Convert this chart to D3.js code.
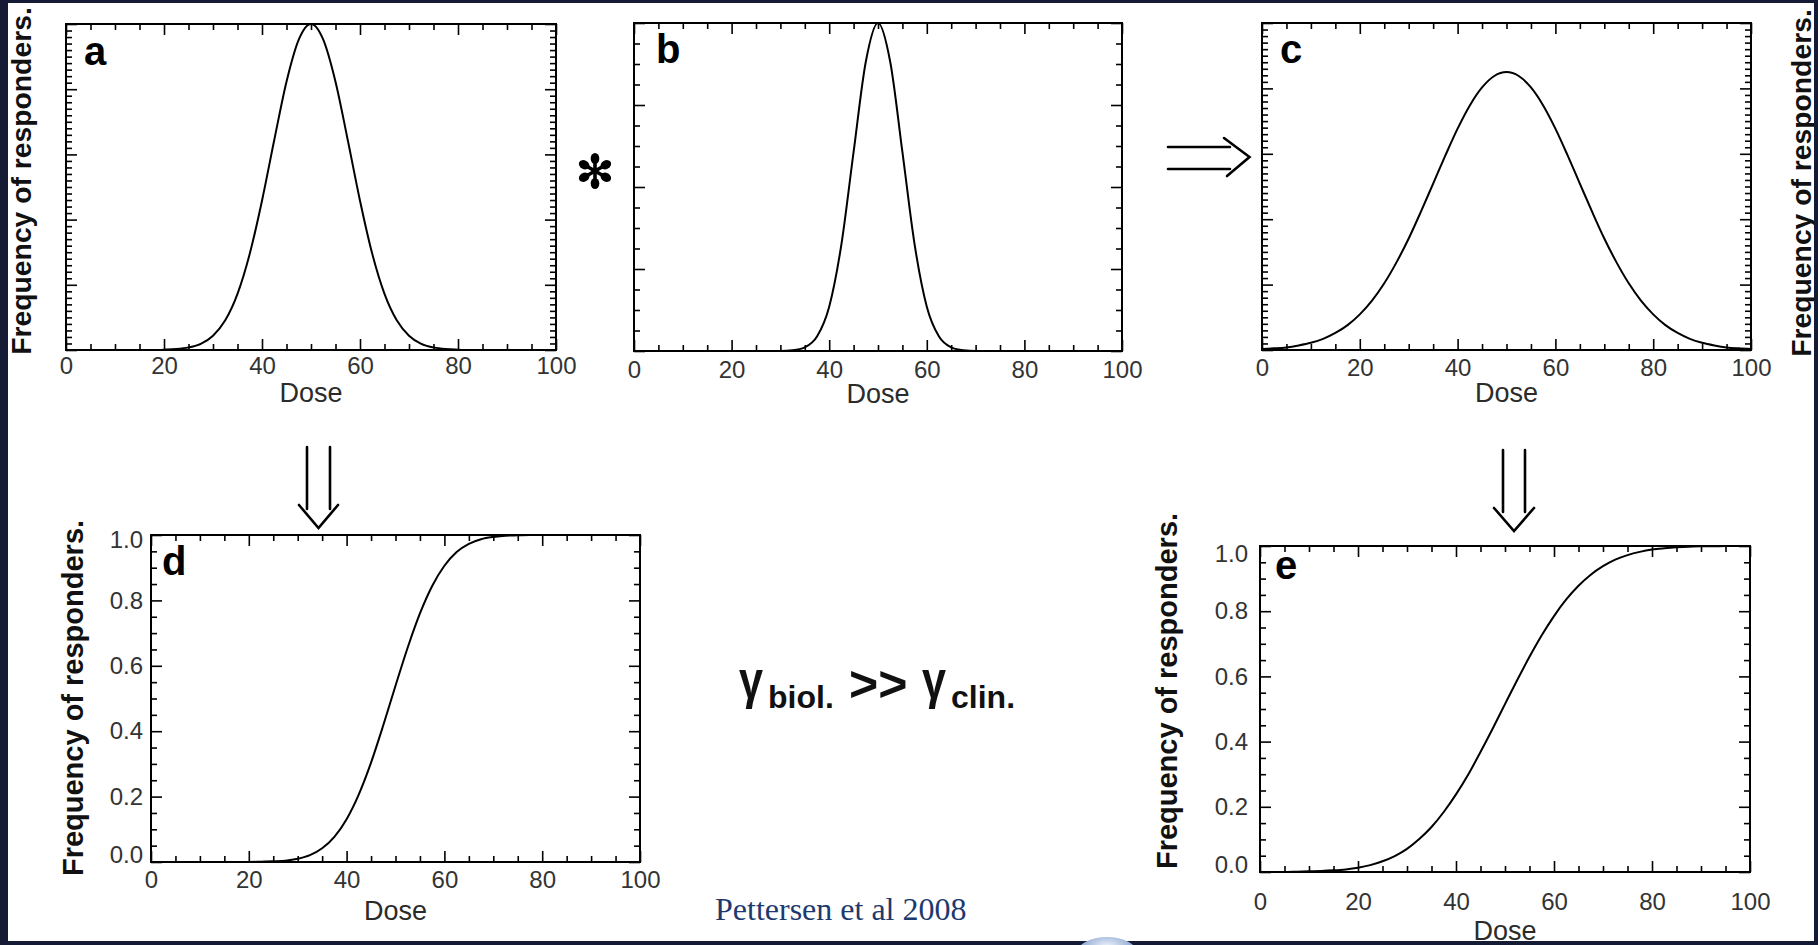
<!DOCTYPE html>
<html>
<head>
<meta charset="utf-8">
<script src="https://cdn.jsdelivr.net/npm/d3@7"></script>
<style>
  html, body { margin: 0; padding: 0; background: #ffffff; }
  svg { display: block; }
</style>
</head>
<body>
<svg id="chart" width="1818" height="945"></svg>
<script>
// ---------------- DATA ----------------
const doses = [0,2.5,5,7.5,10,12.5,15,17.5,20,22.5,25,27.5,30,32.5,35,37.5,40,42.5,45,47.5,50,
               52.5,55,57.5,60,62.5,65,67.5,70,72.5,75,77.5,80,82.5,85,87.5,90,92.5,95,97.5,100];

// panel a : biological distribution (relative frequency)
const respA = [0,0,0,0,0,0,0,0,
               0.001,0.003,0.008,0.019,0.044,0.091,0.172,0.295,0.458,0.644,0.823,0.952,
               1.000,
               0.952,0.823,0.644,0.458,0.295,0.172,0.091,0.044,0.019,0.008,0.003,0.001,
               0,0,0,0,0,0,0,0];
// panel b : narrow distribution
const respB = [0,0,0,0,0,0,0,0,0,0,0,0,0,
               0.002,0.011,0.044,0.135,0.325,0.607,0.882,
               1.000,
               0.882,0.607,0.325,0.135,0.044,0.011,0.002,
               0,0,0,0,0,0,0,0,0,0,0,0,0];
// panel c : resulting (clinical) distribution
const respC = [0.003,0.005,0.008,0.014,0.022,0.034,0.052,0.076,0.109,0.151,0.204,0.268,0.341,0.423,
               0.509,0.595,0.677,0.748,0.803,0.838,
               0.850,
               0.838,0.803,0.748,0.677,0.595,0.509,0.423,0.341,0.268,0.204,0.151,0.109,0.076,
               0.052,0.034,0.022,0.014,0.008,0.005,0.003];
// panel d : cumulative frequency of responders (biological)
const respD = [0,0,0,0,0,0,0,0,0,
               0.001,0.002,0.004,0.010,0.021,0.042,0.077,0.131,0.207,0.304,0.418,0.539,
               0.656,0.760,0.844,0.906,0.948,0.973,0.987,0.994,0.998,0.999,
               1,1,1,1,1,1,1,1,1,1];
// panel e : cumulative frequency of responders (clinical)
const respE = [0,0,0,0.001,0.002,0.003,0.005,0.008,0.013,0.021,0.033,0.049,0.071,0.101,0.138,0.184,
               0.238,0.299,0.368,0.440,0.515,0.589,0.660,0.726,0.785,0.836,0.878,0.912,0.938,
               0.958,0.972,0.982,0.989,0.993,0.996,0.998,0.999,0.999,1,1,1];

const xMajorTicks = [0,20,40,60,80,100];
const xTickLabels = ["0","20","40","60","80","100"];
const yMajorTicks = [0,0.2,0.4,0.6,0.8,1.0];
const yTickLabels = ["0.0","0.2","0.4","0.6","0.8","1.0"];
const yMajorTicksB = [0,0.25,0.5,0.75,1.0];

const panelLetters = ["a","b","c","d","e"];
const axisTitleX = "Dose";
const axisTitleY = "Frequency of responders.";
const citation = "Pettersen et al 2008";

// ---------------- LAYOUT ----------------
const W = 1818, H = 945;
const svg = d3.select("#chart");
const SANS = '"Liberation Sans", Arial, Helvetica, sans-serif';
const NAVY = "#151a35";

svg.append("rect").attr("x",0).attr("y",0).attr("width",W).attr("height",H).attr("fill","#ffffff");

const panels = [
  {letter:"a", vals:respA, x0:66,   x1:556,  y0:24,  y1:350, yMaj:yMajorTicks,  yMinor:0.02,   xPad:7,  doseY:402, yLabels:false,
   lx:84,  ly:65},
  {letter:"b", vals:respB, x0:634,  x1:1122, y0:23,  y1:351, yMaj:yMajorTicksB, yMinor:0.0625, xPad:10, doseY:403, yLabels:false,
   lx:656, ly:63},
  {letter:"c", vals:respC, x0:1262, x1:1751, y0:23,  y1:350, yMaj:yMajorTicks,  yMinor:0.02,   xPad:9,  doseY:402, yLabels:false,
   lx:1280, ly:63},
  {letter:"d", vals:respD, x0:151,  x1:640,  y0:535, y1:862, yMaj:yMajorTicks,  yMinor:0.05,   xPad:9,  doseY:920, yLabels:true, yPad:8,
   topNudge:5, botNudge:-7, lx:162, ly:575},
  {letter:"e", vals:respE, x0:1260, x1:1750, y0:546, y1:872, yMaj:yMajorTicks,  yMinor:0.05,   xPad:21, doseY:940, yLabels:true, yPad:12,
   topNudge:8, botNudge:-7, lx:1275, ly:579}
];

function isMultiple(v, step) {
  const r = v / step;
  return Math.abs(r - Math.round(r)) < 1e-6;
}

function styleAxis(sel) {
  sel.select(".domain").remove();
  sel.selectAll("line").attr("stroke", "#000").attr("stroke-width", 1.6);
  sel.attr("font-family", null).attr("font-size", null);
  sel.selectAll("text")
     .attr("font-family", SANS)
     .attr("font-size", 24)
     .attr("fill", "#333");
}

panels.forEach(p => {
  const g = svg.append("g").attr("class", "panel-" + p.letter);
  const x = d3.scaleLinear().domain([0, 100]).range([p.x0, p.x1]);
  const y = d3.scaleLinear().domain([0, 1]).range([p.y1, p.y0]);

  const xMinor = x.ticks(20).filter(v => !isMultiple(v, 20));
  const majorStep = p.yMaj[1] - p.yMaj[0];
  const nMinor = Math.round(1 / p.yMinor);
  const yMinor = d3.range(0, nMinor + 1).map(i => i / nMinor).filter(v => !isMultiple(v, majorStep));

  // bottom axis (major, with labels)
  g.append("g").attr("transform", `translate(0,${p.y1})`)
    .call(d3.axisBottom(x).tickValues(xMajorTicks).tickSizeInner(-11).tickSizeOuter(0)
          .tickPadding(p.xPad).tickFormat((d, i) => xTickLabels[i]))
    .call(styleAxis);
  g.append("g").attr("transform", `translate(0,${p.y1})`)
    .call(d3.axisBottom(x).tickValues(xMinor).tickSizeInner(-6).tickSizeOuter(0).tickFormat(""))
    .call(styleAxis);
  // top axis
  g.append("g").attr("transform", `translate(0,${p.y0})`)
    .call(d3.axisTop(x).tickValues(xMajorTicks).tickSizeInner(-11).tickSizeOuter(0).tickFormat(""))
    .call(styleAxis);
  g.append("g").attr("transform", `translate(0,${p.y0})`)
    .call(d3.axisTop(x).tickValues(xMinor).tickSizeInner(-6).tickSizeOuter(0).tickFormat(""))
    .call(styleAxis);
  // left axis
  const left = g.append("g").attr("transform", `translate(${p.x0},0)`)
    .call(d3.axisLeft(y).tickValues(p.yMaj).tickSizeInner(-11).tickSizeOuter(0)
          .tickPadding(p.yLabels ? p.yPad : 0)
          .tickFormat((d, i) => p.yLabels ? yTickLabels[i] : ""))
    .call(styleAxis);
  if (p.yLabels) {
    left.selectAll("text").filter(d => d === 1).attr("y", p.topNudge);
    left.selectAll("text").filter(d => d === 0).attr("y", p.botNudge);
  }
  g.append("g").attr("transform", `translate(${p.x0},0)`)
    .call(d3.axisLeft(y).tickValues(yMinor).tickSizeInner(-6).tickSizeOuter(0).tickFormat(""))
    .call(styleAxis);
  // right axis
  g.append("g").attr("transform", `translate(${p.x1},0)`)
    .call(d3.axisRight(y).tickValues(p.yMaj).tickSizeInner(-11).tickSizeOuter(0).tickFormat(""))
    .call(styleAxis);
  g.append("g").attr("transform", `translate(${p.x1},0)`)
    .call(d3.axisRight(y).tickValues(yMinor).tickSizeInner(-6).tickSizeOuter(0).tickFormat(""))
    .call(styleAxis);

  // frame
  g.append("rect").attr("x", p.x0).attr("y", p.y0)
    .attr("width", p.x1 - p.x0).attr("height", p.y1 - p.y0)
    .attr("fill", "none").attr("stroke", "#000").attr("stroke-width", 2);

  // curve
  const line = d3.line()
    .x((d, i) => x(doses[i]))
    .y(d => y(d))
    .curve(d3.curveMonotoneX);
  g.append("path").datum(p.vals)
    .attr("d", line)
    .attr("fill", "none").attr("stroke", "#000").attr("stroke-width", 2)
    .attr("stroke-linejoin", "round");

  // panel letter
  g.append("text").attr("x", p.lx).attr("y", p.ly)
    .attr("font-family", SANS).attr("font-weight", "bold").attr("font-size", 40)
    .attr("fill", "#000").text(p.letter);

  // x title
  g.append("text").attr("x", (p.x0 + p.x1) / 2).attr("y", p.doseY)
    .attr("text-anchor", "middle").attr("font-family", SANS).attr("font-size", 27)
    .attr("fill", "#2b2b2b").text(axisTitleX);
});

// y titles (rotated)
const yTitles = [
  {x: 31,   y: 181, fs: 28.3},
  {x: 1811, y: 183, fs: 28.3},
  {x: 83,   y: 698, fs: 29},
  {x: 1177, y: 691, fs: 29}
];
yTitles.forEach(t => {
  svg.append("text")
    .attr("transform", `translate(${t.x},${t.y}) rotate(-90)`)
    .attr("text-anchor", "middle")
    .attr("font-family", SANS).attr("font-weight", "bold").attr("font-size", t.fs)
    .attr("fill", "#111").text(axisTitleY);
});

// ---------------- decorations ----------------
// asterisk between a and b
const ast = svg.append("g").attr("transform", "translate(595,171)");
[90, 30, -30, -90, -150, 150].forEach(a => {
  const arm = ast.append("g").attr("transform", `rotate(${-a})`);
  arm.append("line").attr("x1", 0).attr("y1", 0).attr("x2", 11).attr("y2", 0)
     .attr("stroke", "#000").attr("stroke-width", 3.6).attr("stroke-linecap", "round");
  arm.append("ellipse").attr("cx", 12.5).attr("cy", 0).attr("rx", 5.6).attr("ry", 4.3).attr("fill", "#000");
});

const arrowStyle = s => s.attr("fill", "none").attr("stroke", "#000").attr("stroke-width", 2.6)
                         .attr("stroke-linecap", "round").attr("stroke-linejoin", "miter");
// horizontal double arrow (b -> c)
svg.append("path").attr("d", "M1168,147 L1230,147 M1168,169 L1230,169").call(arrowStyle);
svg.append("path").attr("d", "M1224,138 L1249.5,157 L1227,176").call(arrowStyle);
// down arrow (a -> d)
svg.append("path").attr("d", "M307,447 L307,509 M330,447 L330,509").call(arrowStyle);
svg.append("path").attr("d", "M299,505 L318.5,528 L338,505").call(arrowStyle);
// down arrow (c -> e)
svg.append("path").attr("d", "M1503,450 L1503,512 M1525,450 L1525,512").call(arrowStyle);
svg.append("path").attr("d", "M1494,508 L1514,531 L1534,508").call(arrowStyle);

// formula  γbiol. >> γclin.
const formula = svg.append("g").attr("font-family", SANS).attr("font-weight", "bold").attr("fill", "#111");
formula.append("text").attr("x", 739).attr("y", 698).attr("font-size", 54)
  .attr("textLength", 24).attr("lengthAdjust", "spacingAndGlyphs").text("γ");
formula.append("text").attr("x", 768).attr("y", 708).attr("font-size", 32).text("biol.");
formula.append("text").attr("x", 849).attr("y", 701).attr("font-size", 50).text(">>");
formula.append("text").attr("x", 922).attr("y", 698).attr("font-size", 54)
  .attr("textLength", 24).attr("lengthAdjust", "spacingAndGlyphs").text("γ");
formula.append("text").attr("x", 951).attr("y", 708).attr("font-size", 32).text("clin.");

// citation
svg.append("text").attr("x", 715).attr("y", 920)
  .attr("font-family", '"Liberation Serif", "Times New Roman", serif').attr("font-size", 32)
  .attr("fill", "#1c3a6e").text(citation);

// slide frame
svg.append("rect").attr("x", 0).attr("y", 0).attr("width", W).attr("height", 3).attr("fill", NAVY);
svg.append("rect").attr("x", 0).attr("y", 0).attr("width", 8).attr("height", H).attr("fill", NAVY);
svg.append("rect").attr("x", 0).attr("y", 941).attr("width", W).attr("height", 4).attr("fill", NAVY);
svg.append("rect").attr("x", 1814).attr("y", 0).attr("width", 4).attr("height", H).attr("fill", NAVY);

const defs = svg.append("defs");
const rg = defs.append("radialGradient").attr("id", "blob").attr("cx", "50%").attr("cy", "30%").attr("r", "60%");
rg.append("stop").attr("offset", "0%").attr("stop-color", "#eef4fc");
rg.append("stop").attr("offset", "100%").attr("stop-color", "#6f8fc4");
svg.append("ellipse").attr("cx", 1107).attr("cy", 953).attr("rx", 30).attr("ry", 16).attr("fill", "url(#blob)");
</script>
</body>
</html>
